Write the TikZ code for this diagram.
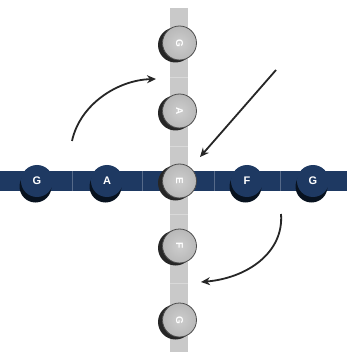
\documentclass[tikz,border=0pt]{standalone}
\usepackage{fontspec}
\setsansfont{Liberation Sans}
\usetikzlibrary{arrows.meta}
\definecolor{navy}{HTML}{1E3962}
\definecolor{navyshadow}{HTML}{08121F}
\definecolor{beadin}{HTML}{CDCDCD}
\definecolor{beadout}{HTML}{B8B8B8}
\definecolor{bargray}{HTML}{C9C9C9}
\begin{document}
\begin{tikzpicture}[x=1pt,y=-1pt,
  navybead/.style={circle,minimum size=32pt,inner sep=0pt,fill=navy,text=white,font=\sffamily\bfseries\fontsize{11}{11}\selectfont},
  navyshade/.style={circle,minimum size=32pt,inner sep=0pt,fill=navyshadow},
  graybead/.style={circle,minimum size=34pt,inner sep=0pt,inner color=beadin,outer color=beadout,draw=gray!60!black,line width=0.8pt,text=white,font=\sffamily\bfseries\fontsize{10}{10}\selectfont,rotate=-90},
  grayshade/.style={circle,minimum size=35pt,inner sep=0pt,fill=black!85},
  curvearrow/.style={line width=1.8pt,draw=black!85,-{Stealth[length=9pt,width=8pt]}}]
\useasboundingbox (0,0) rectangle (347,352);
\fill[white] (0,0) rectangle (347,352);
% bars
\fill[bargray] (170,8) rectangle (188,352);
\fill[navy] (0,171) rectangle (347,191);
\foreach \gx in {72,142,214,280}{\fill[white,opacity=0.25] (\gx,171) rectangle (\gx+1,191);}
\foreach \gy in {77,146,214,283}{\fill[white,opacity=0.3] (170,\gy) rectangle (188,\gy+1);}
% navy beads
\foreach \n/\cx/\t in {g1/37/G,a1/107/A,f1/247/F,g2/313/G}{
  \node[navyshade] at (\cx-1.5,186.5) {};
  \node[navybead] (\n) at (\cx,181) {\t};
}
% gray beads
\foreach \n/\cy/\t in {gv1/43/G,av/111/A,ec/181/E,fv/246/F,gv2/320/G}{
  \node[grayshade] at (175.5,\cy+2) {};
  \node[graybead] (\n) at (179.5,\cy) {\t};
}
% arrows
\coordinate (s1) at (72,141);
\coordinate (e1) at (156,79);
\draw[curvearrow] (s1) .. controls (80,104) and (118,80) .. (e1);
\coordinate (s2) at (276,70);
\coordinate (e2) at (200,157);
\draw[curvearrow] (s2) -- (e2);
\coordinate (s3) at (281,214);
\coordinate (e3) at (201,282);
\draw[curvearrow] (s3) .. controls (284,252) and (248,278) .. (e3);
\end{tikzpicture}
\end{document}
